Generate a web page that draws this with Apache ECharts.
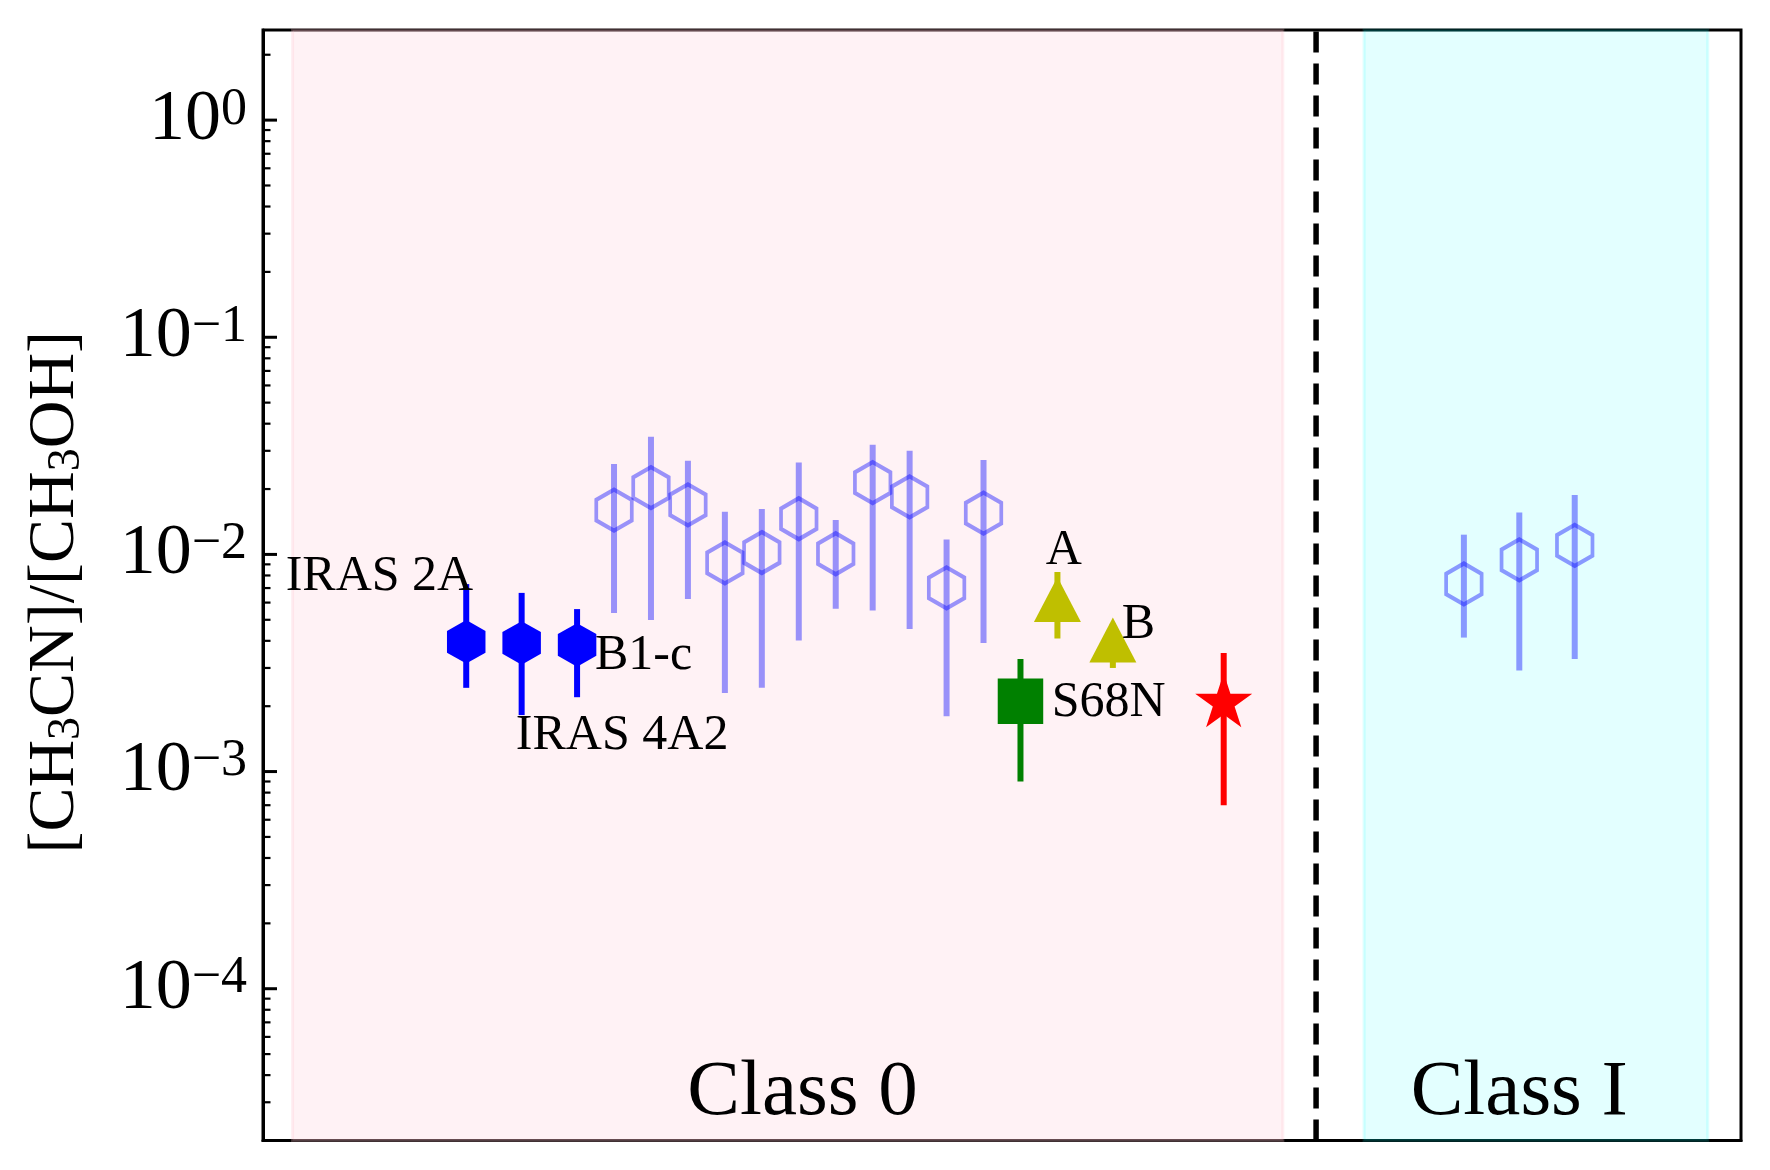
<!DOCTYPE html>
<html>
<head>
<meta charset="utf-8">
<script src="https://cdn.jsdelivr.net/npm/echarts@6/dist/echarts.min.js"></script>
<style>
html,body{margin:0;padding:0;background:#fff;}
#chart{width:1770px;height:1170px;}
</style>
</head>
<body>
<div id="chart"></div>
<script>
// ---------- data ----------
// x positions are ordinal slot positions along a hidden axis (0..40)
const filledX  = [5.5, 7.0, 8.5];
const filledY  = [3.96e-3, 3.91e-3, 3.83e-3];
const filledLo = [2.43e-3, 1.82e-3, 2.20e-3];
const filledHi = [7.30e-3, 6.65e-3, 5.60e-3];

const openX  = [9.5, 10.5, 11.5, 12.5, 13.5, 14.5, 15.5, 16.5, 17.5, 18.5, 19.5];
const openY  = [1.60e-2, 2.03e-2, 1.69e-2, 9.14e-3, 1.02e-2, 1.46e-2, 1.007e-2, 2.14e-2, 1.84e-2, 7.01e-3, 1.55e-2];
const openLo = [5.37e-3, 4.99e-3, 6.24e-3, 2.30e-3, 2.43e-3, 4.01e-3, 5.62e-3, 5.51e-3, 4.54e-3, 1.80e-3, 3.91e-3];
const openHi = [2.61e-2, 3.48e-2, 2.70e-2, 1.57e-2, 1.62e-2, 2.65e-2, 1.44e-2, 3.20e-2, 3.00e-2, 1.17e-2, 2.72e-2];

const squareX  = [20.5];
const squareY  = [2.11e-3];
const squareLo = [9.0e-4];
const squareHi = [3.30e-3];

const triX  = [21.5, 23.0];
const triY  = [6.2e-3, 4.04e-3];
const triLo = [4.1e-3, 3.0e-3];
const triHi = [8.3e-3, 4.8e-3];

const starX  = [26.0];
const starY  = [2.07e-3];
const starLo = [7.0e-4];
const starHi = [3.52e-3];

const classIX  = [32.5, 34.0, 35.5];
const classIY  = [7.31e-3, 9.44e-3, 1.10e-2];
const classILo = [4.14e-3, 2.92e-3, 3.30e-3];
const classIHi = [1.233e-2, 1.56e-2, 1.88e-2];

const sourceLabels = ['IRAS 2A', 'IRAS 4A2', 'B1-c', 'A', 'B', 'S68N'];
const sourceLabelX = [0.60, 6.83, 8.97, 21.17, 23.23, 21.33];
const sourceLabelY = [7.92e-3, 1.46e-3, 3.40e-3, 1.04e-2, 4.76e-3, 2.07e-3];

const classLabels = ['Class 0', 'Class I'];
const classLabelX = [14.6, 34.0];
const classLabelY = [3.3e-5, 3.3e-5];

const class0Band = [0.8, 27.6];
const class1Band = [29.8, 39.1];
const dividerX = 28.5;

const xRange = [0, 40];
const yRange = [2e-5, 2.6];
const majorTicks = [1e-4, 1e-3, 1e-2, 1e-1, 1];
const minorTicks = [
  2e-5,3e-5,4e-5,5e-5,6e-5,7e-5,8e-5,9e-5,
  2e-4,3e-4,4e-4,5e-4,6e-4,7e-4,8e-4,9e-4,
  2e-3,3e-3,4e-3,5e-3,6e-3,7e-3,8e-3,9e-3,
  2e-2,3e-2,4e-2,5e-2,6e-2,7e-2,8e-2,9e-2,
  2e-1,3e-1,4e-1,5e-1,6e-1,7e-1,8e-1,9e-1,
  2
];

// ---------- helpers ----------
const FONT = 'Liberation Serif';
const HEX = 'path://M0,-1L0.866,-0.5L0.866,0.5L0,1L-0.866,0.5L-0.866,-0.5Z';
const STAR = 'path://M0,1M0,-1L0.2245,-0.309L0.9511,-0.309L0.3633,0.118L0.5878,0.809L0,0.382L-0.5878,0.809L-0.3633,0.118L-0.9511,-0.309L-0.2245,-0.309Z';

function pts(xs, ys) { return xs.map((x, i) => [x, ys[i]]); }

function bars(xs, lo, hi, color, width) {
  return {
    type: 'custom', z: 3, silent: true, clip: false,
    data: xs.map((x, i) => [x, lo[i], hi[i]]),
    renderItem: function (params, api) {
      const a = api.coord([api.value(0), api.value(1)]);
      const b = api.coord([api.value(0), api.value(2)]);
      return { type: 'line', shape: { x1: a[0], y1: a[1], x2: b[0], y2: b[1] },
               style: { stroke: color, lineWidth: width, lineCap: 'butt' } };
    }
  };
}

function ticks(values, len, width) {
  return {
    type: 'custom', z: 10, silent: true, clip: false,
    data: values.map(v => [xRange[0], v]),
    renderItem: function (params, api) {
      const p = api.coord([api.value(0), api.value(1)]);
      return { type: 'line', shape: { x1: p[0], y1: p[1], x2: p[0] + len, y2: p[1] },
               style: { stroke: '#000', lineWidth: width } };
    }
  };
}

function textSeries(names, xs, ys, position, size) {
  return {
    type: 'scatter', z: 6, silent: true,
    symbol: 'circle', symbolSize: 1,
    itemStyle: { color: 'rgba(0,0,0,0)', opacity: 1 },
    data: names.map((n, i) => ({ name: n, value: [xs[i], ys[i]] })),
    label: { show: true, formatter: '{b}', position: position, distance: 0,
             color: '#000', opacity: 1, fontFamily: FONT, fontSize: size },
    emphasis: { disabled: true }
  };
}

function supLabel(v) {
  const l = Math.log10(v);
  const e = Math.round(l);
  if (Math.abs(l - e) > 1e-6) return '';
  return '{b|10}{s|' + (e < 0 ? '\u2212' + (-e) : String(e)) + '}';
}

const chart = echarts.init(document.getElementById('chart'), null, { renderer: 'canvas' });

const option = {
  animation: false,
  backgroundColor: '#fff',
  grid: { left: 263, right: 29, top: 30, bottom: 29.5, show: true,
          borderColor: '#000', borderWidth: 3, backgroundColor: 'rgba(0,0,0,0)' },
  xAxis: {
    type: 'value', min: xRange[0], max: xRange[1],
    axisLine: { show: true, lineStyle: { color: '#000', width: 3 } },
    axisTick: { show: false }, axisLabel: { show: false }, splitLine: { show: false }
  },
  yAxis: {
    type: 'log', logBase: 10, min: yRange[0], max: yRange[1],
    axisLine: { show: true, lineStyle: { color: '#000', width: 3 } },
    axisTick: { show: false },
    splitLine: { show: false },
    minorTick: { show: false },
    axisLabel: {
      show: true, margin: 16, formatter: supLabel, color: '#000',
      showMinLabel: false, showMaxLabel: false,
      rich: {
        b: { fontFamily: FONT, fontSize: 72, lineHeight: 72, padding: [13, 0, 13, 0], color: '#000' },
        s: { fontFamily: FONT, fontSize: 52, lineHeight: 52, verticalAlign: 'top', color: '#000' }
      }
    },
    name: '{n|[CH}{s|3}{n|CN]/[CH}{s|3}{n|OH]}',
    nameLocation: 'middle', nameRotate: 90, nameGap: 173,
    nameTextStyle: {
      color: '#000', padding: [0, 14, 0, 0],
      rich: {
        n: { fontFamily: FONT, fontSize: 66, lineHeight: 68, color: '#000' },
        s: { fontFamily: FONT, fontSize: 46, lineHeight: 46, verticalAlign: 'bottom', color: '#000' }
      }
    }
  },
  series: [
    // divider + shaded class regions
    {
      type: 'line', z: 1, silent: true, symbol: 'none',
      data: [[dividerX, yRange[0]], [dividerX, yRange[1]]],
      lineStyle: { color: '#000', width: 5.5, type: [21, 11], dashOffset: 0 },
      markArea: {
        silent: true,
        data: [
          [{ xAxis: class0Band[0], itemStyle: { color: 'rgba(255,192,203,0.2)', borderColor: 'rgba(255,192,203,0.25)', borderWidth: 3 } },
           { xAxis: class0Band[1] }],
          [{ xAxis: class1Band[0], itemStyle: { color: 'rgba(0,255,255,0.11)', borderColor: 'rgba(0,255,255,0.14)', borderWidth: 3 } },
           { xAxis: class1Band[1] }]
        ]
      }
    },
    // error bars
    bars(filledX, filledLo, filledHi, '#0000ff', 6),
    bars(openX, openLo, openHi, 'rgba(0,0,255,0.4)', 6),
    bars(classIX, classILo, classIHi, 'rgba(0,0,255,0.4)', 6),
    bars(squareX, squareLo, squareHi, '#008000', 6),
    bars(triX, triLo, triHi, '#bfbf00', 6),
    bars(starX, starLo, starHi, '#ff0000', 6),
    // markers
    { type: 'scatter', z: 4, silent: true, symbol: HEX, symbolSize: [38.5, 43.5],
      itemStyle: { color: '#0000ff', opacity: 1 }, data: pts(filledX, filledY) },
    { type: 'scatter', z: 4, silent: true, symbol: HEX, symbolSize: [35.5, 41],
      itemStyle: { color: 'rgba(0,0,0,0)', borderColor: 'rgba(0,0,255,0.4)', borderWidth: 4, opacity: 1 },
      data: pts(openX, openY) },
    { type: 'scatter', z: 4, silent: true, symbol: HEX, symbolSize: [35.5, 41],
      itemStyle: { color: 'rgba(0,0,0,0)', borderColor: 'rgba(0,0,255,0.4)', borderWidth: 4, opacity: 1 },
      data: pts(classIX, classIY) },
    { type: 'scatter', z: 4, silent: true, symbol: 'rect', symbolSize: [45.5, 45.5],
      itemStyle: { color: '#008000', opacity: 1 }, data: pts(squareX, squareY) },
    { type: 'scatter', z: 4, silent: true, symbol: 'triangle', symbolSize: [47, 45],
      itemStyle: { color: '#bfbf00', opacity: 1 }, data: pts(triX, triY) },
    { type: 'scatter', z: 4, silent: true, symbol: STAR, symbolSize: [57, 60],
      itemStyle: { color: '#ff0000', opacity: 1 }, data: pts(starX, starY) },
    // y-axis ticks (inside)
    ticks(majorTicks, 14, 3),
    ticks(minorTicks, 7.5, 2.2),
    // annotations
    textSeries(sourceLabels, sourceLabelX, sourceLabelY, 'right', 50),
    textSeries(classLabels, classLabelX, classLabelY, 'inside', 79)
  ]
};
chart.setOption(option);
</script>
</body>
</html>
